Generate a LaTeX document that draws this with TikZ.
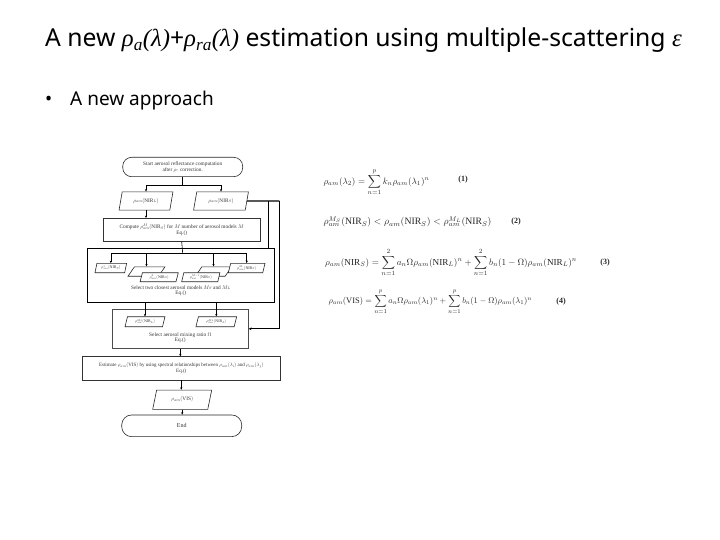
\documentclass[tikz,border=0pt]{standalone}
\usepackage{fontspec}
\setmainfont{Liberation Serif}
\newfontfamily\titlefont{Noto Sans}
\usepackage{amsmath}
\usepackage{graphicx}
\usetikzlibrary{shapes.geometric,arrows.meta}
\newcommand{\fctxt}[2]{\scalebox{#1}{\fontsize{10}{11}\selectfont\begin{tabular}{@{}c@{}}#2\end{tabular}}}
\newcommand{\tit}[1]{{\rmfamily\itshape #1}}
\tikzset{
  fc/.style={text=black!80, align=center},
  boxnode/.style={draw=black!80, line width=0.6pt, fc, inner sep=0.5pt},
  termnode/.style={draw=black!85, line width=0.6pt, rounded corners=9pt, fc, inner sep=0.5pt},
  paranode/.style={draw=black!85, line width=0.6pt, fill=white, trapezium, trapezium left angle=75,
     trapezium right angle=105, trapezium stretches=true, inner sep=0.3pt, fc},
  ln/.style={draw=black, line width=0.6pt},
  arr/.style={ln, -{Stealth[length=2.4pt,width=2.2pt]}},
  thk/.style={draw=black, line width=1.4pt},
  eqn/.style={text=black!85, inner sep=0pt},
  eqlab/.style={font=\bfseries\fontsize{8}{9}\selectfont, text=black!85, inner sep=0pt}
}
\begin{document}
\begin{tikzpicture}[x=1pt,y=-1pt]
\useasboundingbox (0,0) rectangle (720,540);
% title and bullet
\node[anchor=base west, inner sep=0pt] (title) at (45,47) {\titlefont\fontsize{24.7}{28}\selectfont A new \tit{ρ\textsubscript{a}(λ)}+\tit{ρ\textsubscript{ra}(λ)} estimation using multiple-scattering \tit{ε}};
\node[anchor=base west, inner sep=0pt] (bul) at (45,106) {\titlefont\fontsize{19}{22}\selectfont •};
\node[anchor=base west, inner sep=0pt] (sub) at (70,106) {\titlefont\fontsize{19}{22}\selectfont A new approach};

% flowchart
\node[termnode, minimum width=120, minimum height=19.4] (start) at (182.7,167) {\fctxt{0.53}{Start aerosol reflectance computation\\after $\rho_r$ correction.}};
\node[paranode, minimum width=54, minimum height=18.3] (pL) at (146,201) {\fctxt{0.53}{$\rho_{am}(\mathrm{NIR}_L)$}};
\node[paranode, minimum width=55, minimum height=18.3] (pR) at (221,201) {\fctxt{0.53}{$\rho_{am}(\mathrm{NIR}_S)$}};
\node[boxnode, minimum width=156.7, minimum height=23.4] (comp) at (181.7,230) {\fctxt{0.53}{Compute $\rho^{M}_{am}(\mathrm{NIR}_S)$ for $M$ number of aerosol models $M$\\Eq.()}};

\node[draw=black, line width=0.9pt, minimum width=187, minimum height=54.4, inner sep=0pt] (big) at (180.8,275.5) {};
\node[paranode, minimum width=37, minimum height=9.4] (Pm1) at (146.5,271.5) {};
\node[paranode, minimum width=36, minimum height=9.4] (Pm2) at (213.5,271.5) {};
\node[paranode, minimum width=31.7, minimum height=9.4] (P1) at (110.8,268) {\fctxt{0.4}{$\rho^{1}_{am}(\mathrm{NIR}_S)$}};
\node[paranode, minimum width=38.3, minimum height=9] (P2) at (159.2,277.2) {\fctxt{0.4}{$\rho^{2}_{am}(\mathrm{NIR}_S)$}};
\node[paranode, minimum width=38.3, minimum height=9] (P3) at (200.8,277.2) {\fctxt{0.4}{$\rho^{M-1}_{am}(\mathrm{NIR}_S)$}};
\node[paranode, minimum width=36.7, minimum height=9.4] (P4) at (246.7,268) {\fctxt{0.4}{$\rho^{M}_{am}(\mathrm{NIR}_S)$}};
\node[fc, inner sep=0pt] (bigtxt) at (180.8,290.9) {\fctxt{0.53}{Select two closest aerosol models $M_S$ and $M_L$\\Eq.()}};

\node[draw=black!70, line width=0.8pt, minimum width=136, minimum height=39, inner sep=0pt] (mix) at (180.3,328.8) {};
\node[paranode, minimum width=40, minimum height=10] (P5) at (145,321.7) {\fctxt{0.4}{$\rho^{M_S}_{am}(\mathrm{NIR}_L)$}};
\node[paranode, minimum width=40.7, minimum height=10] (P6) at (216.3,321.7) {\fctxt{0.4}{$\rho^{M_L}_{am}(\mathrm{NIR}_L)$}};
\node[fc, inner sep=0pt] (mixtxt) at (180.3,337.9) {\fctxt{0.53}{Select aerosol mixing ratio $\Omega$\\Eq.()}};

\node[boxnode, minimum width=197.3, minimum height=23.3] (est) at (181.3,368.3) {\fctxt{0.5}{Estimate $\rho_{am}(\mathrm{VIS})$ by using spectral relationships between $\rho_{am}(\lambda_i)$ and $\rho_{am}(\lambda_j)$\\Eq.()}};
\node[paranode, minimum width=59, minimum height=19.3] (out) at (182.2,399.7) {\fctxt{0.53}{$\rho_{am}(\mathrm{VIS})$}};
\node[termnode, rounded corners=10pt, minimum width=120, minimum height=21.7] (end) at (181.7,425.8) {\fctxt{0.6}{End}};

% connectors
\coordinate (j1) at (182.7,185);
\draw[ln] (start.south) -- (j1);
\draw[arr] (j1) -| (pL.north);
\draw[arr] (j1) -| (pR.north);
\draw[arr] (pL.south) -- (pL.south |- comp.north);
\coordinate (j2) at (182.7,253.3);
\draw[ln] (comp.south) -- (j2);
\draw[arr] (j2) -| (P1.north);
\draw[arr] (j2) -| (Pm1.north);
\draw[arr] (j2) -| (Pm2.north);
\draw[arr] (j2) -| (P4.north);
\coordinate (r1) at (268.3,201);
\coordinate (r2) at (279.3,201);
\draw[thk] (pR.east) -- (r2);
\draw[thk] (r1) -- (r1 |- big.north);
\draw[ln, line width=1.2pt, -{Stealth[length=2.8pt,width=2.6pt]}] (r2) |- (mix.east);
\draw[arr] (P5.north |- big.south) -- (P5.north);
\draw[arr] (P6.north |- big.south) -- (P6.north);
\draw[arr] (mix.south) -- (mix.south |- est.north);
\draw[arr] (est.south) -- (est.south |- out.north);
\draw[arr] (out.south) -- (out.south |- end.north);

% equations
\node[eqn, anchor=west] (eq1) at (323.3,182.3) {\resizebox{106pt}{!}{$\displaystyle \rho_{am}(\lambda_2)=\sum_{n=1}^{p}k_n\rho_{am}(\lambda_1)^n$}};
\node[eqlab] (l1) at (463,180) {(1)};
\node[eqn, anchor=west] (eq2) at (323.3,221.7) {\resizebox{168pt}{!}{$\rho^{M_S}_{am}(\mathrm{NIR}_S)<\rho_{am}(\mathrm{NIR}_S)<\rho^{M_L}_{am}(\mathrm{NIR}_S)$}};
\node[eqlab] (l2) at (516,222) {(2)};
\node[eqn, anchor=west] (eq3) at (325,262.7) {\resizebox{251.7pt}{!}{$\displaystyle \rho_{am}(\mathrm{NIR}_S)=\sum_{n=1}^{2}a_n\Omega\rho_{am}(\mathrm{NIR}_L)^n+\sum_{n=1}^{2}b_n(1-\Omega)\rho_{am}(\mathrm{NIR}_L)^n$}};
\node[eqlab] (l3) at (605,263) {(3)};
\node[eqn, anchor=west] (eq4) at (328.3,301.7) {\resizebox{203.4pt}{!}{$\displaystyle \rho_{am}(\mathrm{VIS})=\sum_{n=1}^{p}a_n\Omega\rho_{am}(\lambda_1)^n+\sum_{n=1}^{p}b_n(1-\Omega)\rho_{am}(\lambda_1)^n$}};
\node[eqlab] (l4) at (561,302) {(4)};
\end{tikzpicture}
\end{document}
